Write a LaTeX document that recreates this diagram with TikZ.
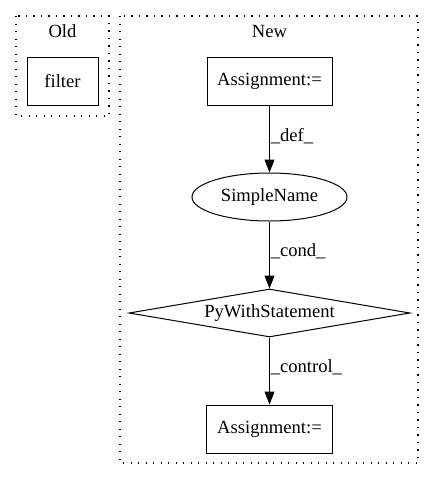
\documentclass[tikz,border=0pt]{standalone}
\usepackage{fontspec}
\setmainfont{Liberation Serif}
\usetikzlibrary{shapes.geometric,arrows.meta}

\tikzset{
  labelfont/.style={font=\fontsize{18.6}{22}\selectfont},
  cluster/.style={draw, line width=1.1pt, dash pattern=on 1.4pt off 6.1pt},
  opbox/.style={draw, rectangle, line width=1pt, minimum height=48pt, inner sep=0pt, labelfont},
  opname/.style={draw, ellipse, line width=1pt, minimum width=155pt, minimum height=48pt, inner sep=0pt, labelfont},
  opcond/.style={draw, diamond, aspect=5.85, line width=1pt, minimum width=281pt, minimum height=48pt, inner sep=0pt, labelfont},
  flow/.style={-{Triangle[length=13pt,width=10pt]}, line width=1pt},
  edgelabel/.style={labelfont, anchor=west, inner sep=0.75pt}
}

\begin{document}
\begin{tikzpicture}[x=1pt,y=1pt,yscale=-1,xscale=1]
\useasboundingbox (0,0) rectangle (435,480);

%Shape: Cluster Old
\draw [cluster] (16,16) rectangle (109,116);
%Shape: Cluster New
\draw [cluster] (120,16) rectangle (418,463);

% Text Node
\node (oldtitle) [labelfont] at (62.5,31) {Old};
% Text Node
\node (newtitle) [labelfont] at (269.5,31) {New};

%Shape: Rectangle filter
\node (filter) [opbox, minimum width=71pt] at (62.5,81) {filter};
%Shape: Rectangle Assignment top
\node (assigntop) [opbox, minimum width=125pt] at (269.5,81) {Assignment:=};
%Shape: Ellipse SimpleName
\node (simplename) [opname] at (269.5,197) {SimpleName};
%Shape: Diamond PyWithStatement
\node (withstmt) [opcond] at (269.5,313) {PyWithStatement};
%Shape: Rectangle Assignment bottom
\node (assignbot) [opbox, minimum width=126pt] at (269.5,429) {Assignment:=};

% Edges
\draw [flow] (assigntop) -- (simplename) node [edgelabel, pos=0.45] {\_def\_};
\draw [flow] (simplename) -- (withstmt) node [edgelabel, pos=0.45] {\_cond\_};
\draw [flow] (withstmt) -- (assignbot) node [edgelabel, pos=0.45] {\_control\_};

\end{tikzpicture}
\end{document}
